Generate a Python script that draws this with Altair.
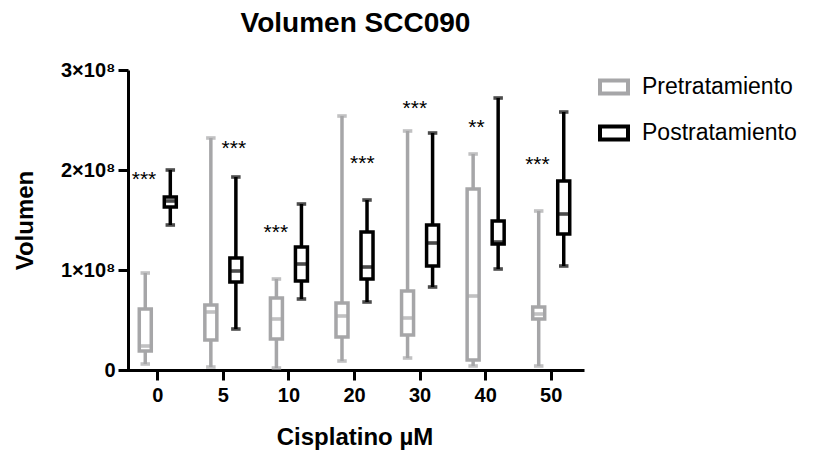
import altair as alt
import pandas as pd

# ---- data (values in units of 1e8) ----
categories = ["0", "5", "10", "20", "30", "40", "50"]
groups = ["Pretratamiento", "Postratamiento"]

pre_min = [0.06, 0.03, 0.02, 0.09, 0.12, 0.04, 0.04]
pre_q1 = [0.19, 0.30, 0.31, 0.33, 0.35, 0.10, 0.51]
pre_med = [0.24, 0.58, 0.51, 0.54, 0.52, 0.74, 0.56]
pre_q3 = [0.61, 0.65, 0.72, 0.67, 0.79, 1.81, 0.63]
pre_max = [0.97, 2.32, 0.91, 2.54, 2.39, 2.16, 1.59]

post_min = [1.45, 0.41, 0.71, 0.68, 0.83, 1.01, 1.04]
post_q1 = [1.63, 0.88, 0.89, 0.91, 1.04, 1.26, 1.36]
post_med = [1.69, 0.99, 1.06, 1.03, 1.27, 1.28, 1.56]
post_q3 = [1.73, 1.12, 1.23, 1.38, 1.45, 1.49, 1.89]
post_max = [2.00, 1.93, 1.66, 1.70, 2.37, 2.72, 2.58]

sig_labels = ["***", "***", "***", "***", "***", "**", "***"]
sig_value = [1.93, 2.24, 1.40, 2.09, 2.64, 2.45, 2.08]
sig_offset = [-0.21, 0.16, -0.20, 0.12, -0.08, -0.14, -0.21]

GRAY = "#a6a6a8"
BLACK = "#000000"
FONT = "Liberation Sans"

rows = []
for g, mn, q1, md, q3, mx in [
    (groups[0], pre_min, pre_q1, pre_med, pre_q3, pre_max),
    (groups[1], post_min, post_q1, post_med, post_q3, post_max),
]:
    for i, c in enumerate(categories):
        rows.append(dict(cat=c, grp=g, mn=mn[i], q1=q1[i], med=md[i], q3=q3[i], mx=mx[i]))
df = pd.DataFrame(rows)

sig = pd.DataFrame({
    "pos": [i + o for i, o in enumerate(sig_offset)],
    "val": sig_value,
    "lab": sig_labels,
})

W, H = 455, 300
xrange = [-3, 456]

x = alt.X("cat:N", sort=categories, title="Cisplatino µM",
          scale=alt.Scale(paddingInner=0, paddingOuter=0, range=xrange),
          axis=alt.Axis(labelAngle=0, labelPadding=5, titleY=55))
xo = alt.XOffset("grp:N", sort=groups,
                 scale=alt.Scale(domain=groups, paddingInner=0, paddingOuter=0.31))
yscale = alt.Scale(domain=[0, 3], nice=False)
yax = alt.Axis(values=[0, 1, 2, 3],
               labelExpr="datum.value == 0 ? '0' : datum.value + '×10⁸'",
               labelPadding=3, titleX=-91)
stroke = alt.Stroke("grp:N", sort=groups,
                    scale=alt.Scale(domain=groups, range=[GRAY, BLACK]),
                    legend=alt.Legend(
                        title=None, orient="none", legendX=470, legendY=1,
                        symbolType="M-1,-0.464H1V0.464H-1Z", symbolSize=784,
                        symbolStrokeWidth=4, symbolFillColor="white",
                        labelFontSize=23, labelFont=FONT, labelColor="black",
                        labelOffset=12, rowPadding=15, padding=0, labelLimit=400,
                    ))

base = alt.Chart(df)

box = base.mark_bar(width=12, filled=False, strokeWidth=3.5).encode(
    x=x, xOffset=xo,
    y=alt.Y("q1:Q", scale=yscale, axis=yax, title="Volumen"),
    y2="q3:Q",
    stroke=stroke,
)
wlo = base.mark_rule(strokeWidth=3.5).encode(
    x=x, xOffset=xo, y=alt.Y("mn:Q", scale=yscale), y2="q1:Q", stroke=stroke)
whi = base.mark_rule(strokeWidth=3.5).encode(
    x=x, xOffset=xo, y=alt.Y("q3:Q", scale=yscale), y2="mx:Q", stroke=stroke)
cap_lo = base.mark_tick(size=6, thickness=0.1, filled=False, strokeWidth=3.5).encode(
    x=x, xOffset=xo, y=alt.Y("mn:Q", scale=yscale), stroke=stroke)
cap_hi = base.mark_tick(size=6, thickness=0.1, filled=False, strokeWidth=3.5).encode(
    x=x, xOffset=xo, y=alt.Y("mx:Q", scale=yscale), stroke=stroke)
med = base.mark_tick(size=8.5, thickness=0.1, filled=False, strokeWidth=3.5).encode(
    x=x, xOffset=xo, y=alt.Y("med:Q", scale=yscale), stroke=stroke)

boxes = alt.layer(box, wlo, whi, cap_lo, cap_hi, med)

stars = alt.Chart(sig).mark_text(fontSize=21, font=FONT, color="black", dy=3).encode(
    x=alt.X("pos:Q", scale=alt.Scale(domain=[-0.5, 6.5], range=xrange), axis=None),
    y=alt.Y("val:Q", scale=yscale),
    text="lab:N",
)

chart = alt.layer(boxes, stars).resolve_scale(x="independent").properties(
    width=W, height=H,
    title=alt.TitleParams("Volumen SCC090", fontSize=28, fontWeight="bold",
                          font=FONT, anchor="middle", offset=22, color="black"),
    autosize=alt.AutoSizeParams(type="none"),
    padding={"left": 120, "top": 62, "right": 216, "bottom": 82},
).configure_view(stroke=None).configure_axis(
    domainColor="black", domainWidth=3, tickColor="black", tickWidth=3,
    tickSize=10, grid=False,
    labelFont=FONT, labelFontSize=20, labelFontWeight="bold", labelColor="black",
    titleFont=FONT, titleFontSize=24, titleFontWeight="bold", titleColor="black",
)

chart.save("out.html", embed_options={"renderer": "svg", "actions": False})
